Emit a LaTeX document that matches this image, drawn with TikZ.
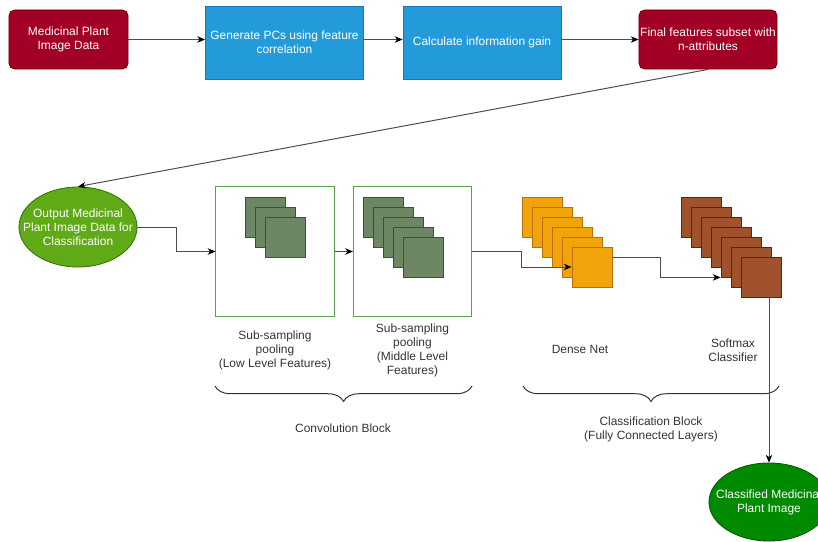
\documentclass[tikz,border=0pt]{standalone}
\usepackage{fontspec}
\setmainfont{Liberation Sans}
\usepackage{xcolor}
\definecolor{plantRed}{HTML}{A20025}
\definecolor{plantRedLine}{HTML}{6F0000}
\definecolor{stepBlue}{HTML}{239BDA}
\definecolor{stepBlueLine}{HTML}{1479B8}
\definecolor{leafGreen}{HTML}{60A917}
\definecolor{leafGreenLine}{HTML}{2D7600}
\definecolor{deepGreen}{HTML}{008A00}
\definecolor{deepGreenLine}{HTML}{005700}
\definecolor{convGreen}{HTML}{5AA04A}
\definecolor{mapGreen}{HTML}{6D8764}
\definecolor{mapGreenLine}{HTML}{3A5431}
\definecolor{denseOrange}{HTML}{F0A30A}
\definecolor{denseOrangeLine}{HTML}{BD7000}
\definecolor{softBrown}{HTML}{A0522D}
\definecolor{softBrownLine}{HTML}{6D1F00}
\definecolor{captionGray}{HTML}{333333}
\usepackage{tikz}
\usetikzlibrary{
    shapes.geometric,
    arrows.meta,
    decorations.pathreplacing
}
\tikzset{
    % Base style for all texts
    plain base/.style={
        font=\fontsize{8.5}{10}\selectfont,
        align=center,
        inner sep=0pt,
    },
    % Data nodes - rounded dark red box
    datanode/.style={
        plain base,
        rectangle,
        rounded corners=4pt,
        minimum width=2.975cm,
        minimum height=1.475cm,
        fill=plantRed,
        draw=plantRedLine,
        line width=0.6pt,
        text=white,
    },
    % Process nodes - plain blue box
    processnode/.style={
        plain base,
        rectangle,
        minimum width=3.95cm,
        minimum height=1.825cm,
        fill=stepBlue,
        draw=stepBlueLine,
        line width=0.6pt,
        text=white,
    },
    % White text inside the ellipses
    celltext/.style={
        plain base,
        text=white,
    },
    % Input ellipse for the network
    outputell/.style={
        ellipse,
        minimum width=2.95cm,
        minimum height=2cm,
        fill=leafGreen,
        draw=leafGreenLine,
        line width=0.6pt,
    },
    % Result ellipse
    resultell/.style={
        ellipse,
        minimum width=3cm,
        minimum height=1.95cm,
        fill=deepGreen,
        draw=deepGreenLine,
        line width=0.6pt,
    },
    % Convolution frame
    convbox/.style={
        rectangle,
        minimum width=2.95cm,
        minimum height=3.225cm,
        fill=white,
        draw=convGreen,
        line width=0.7pt,
    },
    % Feature map squares
    featsq/.style={
        rectangle,
        minimum size=1cm,
        fill=mapGreen,
        draw=mapGreenLine,
        line width=0.6pt,
    },
    densesq/.style={
        featsq,
        fill=denseOrange,
        draw=denseOrangeLine,
    },
    softsq/.style={
        featsq,
        fill=softBrown,
        draw=softBrownLine,
    },
    % Captions under the blocks
    caption/.style={
        plain base,
        text=captionGray,
    },
    % Connector arrow
    arrow/.style={
        -{Stealth[length=5.5pt, width=4.6pt, inset=1.6pt, color=black]},
        line width=0.7pt,
        draw=black!70,
    },
    % Curly brace under a block
    blockbrace/.style={
        decorate,
        decoration={brace, mirror, amplitude=11pt},
        draw=captionGray,
        line width=0.7pt,
    },
}

\begin{document}
\begin{tikzpicture}[x=0.025cm, y=-0.025cm]
    \useasboundingbox (0,0) rectangle (818,541);
    \clip (0,0) rectangle (818,541);

    \node (plantData) [datanode] at (68.5,39.5) {Medicinal Plant\\Image Data};
    \node (genPCs) [processnode] at (284.5,42.5) {Generate PCs using feature\\correlation};
    \node (infoGain) [processnode] at (482,42.5) {Calculate information gain};
    \node (finalSubset) [datanode, minimum width=3.45cm] at (708,39.5) {Final features subset with\\n-attributes};

    \node (outData) [outputell, label={[celltext]center:Output Medicinal\\Plant Image Data for\\Classification}] at (78,227) {};

    \node (convLow) [convbox] at (275,251.5) {};
    \node (convMid) [convbox] at (412.5,251.5) {};
    \foreach \k in {1,...,3}
        \node (lowsq\k) [featsq] at ({255+10*\k},{207+10*\k}) {};
    \foreach \k in {1,...,5}
        \node (midsq\k) [featsq] at ({373+10*\k},{207+10*\k}) {};
    \foreach \k in {1,...,6}
        \node (dense\k) [densesq] at ({532+10*\k},{207+10*\k}) {};
    \foreach \k in {1,...,7}
        \node (soft\k) [softsq] at ({691+10*\k},{207+10*\k}) {};

    \node (lowLabel) [caption] at (275,350) {Sub-sampling\\pooling\\(Low Level Features)};
    \node (midLabel) [caption] at (412.5,350) {Sub-sampling\\pooling\\(Middle Level\\Features)};
    \node (denseLabel) [caption] at (580,349) {Dense Net};
    \node (softLabel) [caption] at (733,350) {Softmax\\Classifier};
    \node (convText) [caption] at (343,428) {Convolution Block};
    \node (classText) [caption] at (651,429) {Classification Block\\(Fully Connected Layers)};

    \node (classified) [resultell, label={[celltext]center:Classified Medicinal\\Plant Image}] at (769,502) {};

    \draw [blockbrace] (215,386) -- (472,386);
    \draw [blockbrace] (523,386) -- (779,386);

    \draw [arrow] (plantData.east) -- (plantData.east -| genPCs.west);
    \draw [arrow] (genPCs.east |- plantData.east) -- (infoGain.west |- plantData.east);
    \draw [arrow] (infoGain.east |- finalSubset.west) -- (finalSubset.west);
    \draw [arrow] (finalSubset.south) -- (outData.north);
    \draw [arrow] (outData.east) -- ++(39,0) |- (convLow.west);
    \draw [arrow] (convLow.east) -- (convMid.west);
    \draw [arrow] (convMid.east) -- ++(49,0) |- (dense6.west);
    \draw [arrow] (dense5.east -| dense6.east) -- ++(48,0) |- (soft5.south west);
    \draw [arrow] (soft7.south -| classified.north) -- (classified.north);
\end{tikzpicture}
\end{document}
